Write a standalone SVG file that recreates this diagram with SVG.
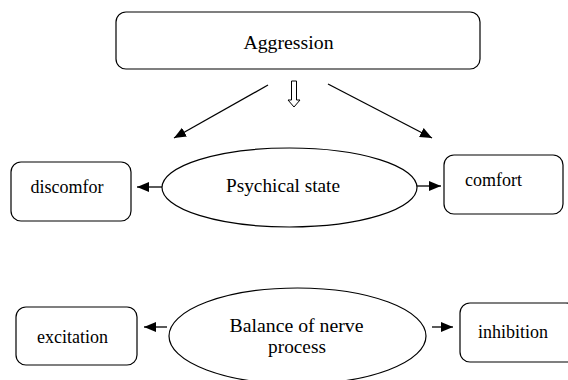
<svg xmlns="http://www.w3.org/2000/svg" width="568" height="380" viewBox="0 0 568 380">
<defs>
<style>
.box{fill:#fff;stroke:#000;stroke-width:1.2}
.t{font-family:"Liberation Serif","Times New Roman",serif;fill:#000}
.c{stroke:#000;stroke-width:1.3;fill:none}
</style>
<marker id="ah" markerUnits="userSpaceOnUse" markerWidth="13" markerHeight="11" refX="12" refY="5" orient="auto">
<path d="M0,0 L12,5 L0,10 z" fill="#000"/>
</marker>
</defs>
<rect width="568" height="380" fill="#fff"/>
<g id="aggression">
<rect class="box" x="116" y="12" width="364" height="57" rx="10"/>
<text class="t" x="288.5" y="49" font-size="19.8" text-anchor="middle">Aggression</text>
</g>
<g id="psychical-state">
<ellipse class="box" cx="289.5" cy="187.5" rx="127.5" ry="39.5"/>
<text class="t" x="283" y="192" font-size="19.3" text-anchor="middle">Psychical state</text>
</g>
<g id="discomfor">
<rect class="box" x="11" y="162" width="120" height="59" rx="10"/>
<text class="t" x="67" y="193" font-size="18" text-anchor="middle">discomfor</text>
</g>
<g id="comfort">
<rect class="box" x="444" y="155" width="119" height="59" rx="10"/>
<text class="t" x="465" y="186" font-size="18">comfort</text>
</g>
<g id="balance">
<ellipse class="box" cx="297.5" cy="336" rx="128.5" ry="48"/>
<text class="t" x="296.5" y="332" font-size="19.8" text-anchor="middle">Balance of nerve</text>
<text class="t" x="297" y="353" font-size="19.3" text-anchor="middle">process</text>
</g>
<g id="excitation">
<rect class="box" x="16" y="307" width="121" height="58" rx="10"/>
<text class="t" x="37" y="343" font-size="18">excitation</text>
</g>
<g id="inhibition">
<rect class="box" x="460" y="303" width="116" height="59" rx="10"/>
<text class="t" x="478" y="338" font-size="18">inhibition</text>
</g>
<g id="connectors">
<polygon points="291.5,81 296.5,81 296.5,100 300,100 294,107 288,100 291.5,100" fill="#fff" stroke="#000" stroke-width="1"/>
<line class="c" x1="268" y1="85" x2="174" y2="138" marker-end="url(#ah)"/>
<line class="c" x1="328" y1="84" x2="432" y2="138" marker-end="url(#ah)"/>
<line class="c" x1="162" y1="187" x2="137" y2="187" marker-end="url(#ah)"/>
<line class="c" x1="417" y1="186" x2="441" y2="186" marker-end="url(#ah)"/>
<line class="c" x1="167" y1="327" x2="144" y2="327" marker-end="url(#ah)"/>
<line class="c" x1="432" y1="327" x2="453" y2="327" marker-end="url(#ah)"/>
</g>
</svg>
